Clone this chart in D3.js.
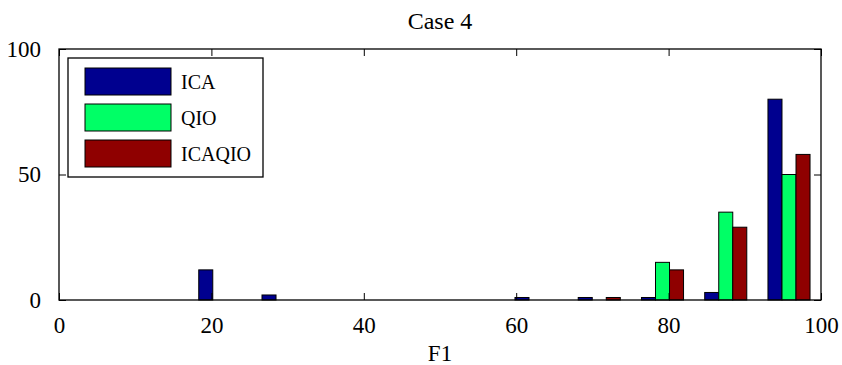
<!DOCTYPE html>
<html>
<head>
<meta charset="utf-8">
<script src="https://cdn.jsdelivr.net/npm/d3@7"></script>
<style>
  body { margin: 0; background: #fff; }
  svg text { font-family: "Liberation Serif", "Times New Roman", serif; fill: #000; }
</style>
</head>
<body>
<div id="chart"></div>
<script>
// bin centres of the histogram (12 bins)
const binCenters = [4.5, 12.8, 21.1, 29.4, 37.7, 46.0, 54.3, 62.6, 70.9, 79.2, 87.5, 95.8];
const seriesNames = ["ICA", "QIO", "ICAQIO"];
const icaValues    = [0, 0, 12, 2, 0, 0, 0, 1, 1, 1, 3, 80];
const qioValues    = [0, 0, 0, 0, 0, 0, 0, 0, 0, 15, 35, 50];
const icaqioValues = [0, 0, 0, 0, 0, 0, 0, 0, 1, 12, 29, 58];
const xTicks = [0, 20, 40, 60, 80, 100];
const yTicks = [0, 50, 100];
const colors = ["#00008f", "#00ff66", "#8f0000"];

const width = 842, height = 365;
const margin = { top: 49, right: 21, bottom: 65, left: 59 };
const innerW = width - margin.left - margin.right;
const innerH = height - margin.top - margin.bottom;

const svg = d3.select("#chart").append("svg")
  .attr("width", width)
  .attr("height", height);

const g = svg.append("g")
  .attr("transform", `translate(${margin.left},${margin.top})`);

const x = d3.scaleLinear().domain([0, 100]).range([0, innerW]);
const y = d3.scaleLinear().domain([0, 100]).range([innerH, 0]);

// bar layout: group of three bars per bin
const barW = 1.84;
const allSeries = [icaValues, qioValues, icaqioValues];

allSeries.forEach((vals, si) => {
  g.selectAll(".bar" + si)
    .data(vals.map((v, i) => ({ c: binCenters[i], v: v })))
    .enter().append("rect")
    .attr("x", d => x(d.c + (si - 1.5) * barW))
    .attr("width", x(barW) - x(0))
    .attr("y", d => y(d.v))
    .attr("height", d => y(0) - y(d.v))
    .attr("fill", colors[si])
    .attr("stroke", "#000")
    .attr("stroke-width", 1);
});

// axes box with inward ticks
const tickLen = 7;
g.append("rect")
  .attr("x", 0).attr("y", 0)
  .attr("width", innerW).attr("height", innerH)
  .attr("fill", "none").attr("stroke", "#000").attr("stroke-width", 1.3);

const xAxisB = d3.axisBottom(x).tickValues(xTicks).tickSizeInner(-tickLen).tickSizeOuter(0).tickPadding(17);
const xAxisT = d3.axisTop(x).tickValues(xTicks).tickSizeInner(-tickLen).tickSizeOuter(0).tickFormat("");
const yAxisL = d3.axisLeft(y).tickValues(yTicks).tickSizeInner(-tickLen).tickSizeOuter(0).tickPadding(18);
const yAxisR = d3.axisRight(y).tickValues(yTicks).tickSizeInner(-tickLen).tickSizeOuter(0).tickFormat("");

[[xAxisB, `translate(0,${innerH})`], [xAxisT, "translate(0,0)"],
 [yAxisL, "translate(0,0)"], [yAxisR, `translate(${innerW},0)`]].forEach(([ax, tr]) => {
  const a = g.append("g").attr("transform", tr).call(ax);
  a.select(".domain").remove();
  a.selectAll("line").attr("stroke", "#000");
  a.selectAll("text").attr("font-size", 23).attr("font-family", "Liberation Serif");
});

// title and x label
svg.append("text")
  .attr("x", margin.left + innerW / 2).attr("y", 29)
  .attr("text-anchor", "middle").attr("font-size", 24)
  .text("Case 4");

svg.append("text")
  .attr("x", margin.left + innerW / 2).attr("y", 361)
  .attr("text-anchor", "middle").attr("font-size", 23)
  .text("F1");

// legend
const legend = svg.append("g").attr("transform", "translate(68,58)");
legend.append("rect")
  .attr("width", 195).attr("height", 119)
  .attr("fill", "#fff").attr("stroke", "#000").attr("stroke-width", 1.3);

seriesNames.forEach((name, i) => {
  legend.append("rect")
    .attr("x", 17).attr("y", 10 + i * 36)
    .attr("width", 86).attr("height", 27)
    .attr("fill", colors[i]).attr("stroke", "#000");
  legend.append("text")
    .attr("x", 113).attr("y", 31 + i * 36)
    .attr("font-size", 20)
    .text(name);
});
</script>
</body>
</html>
